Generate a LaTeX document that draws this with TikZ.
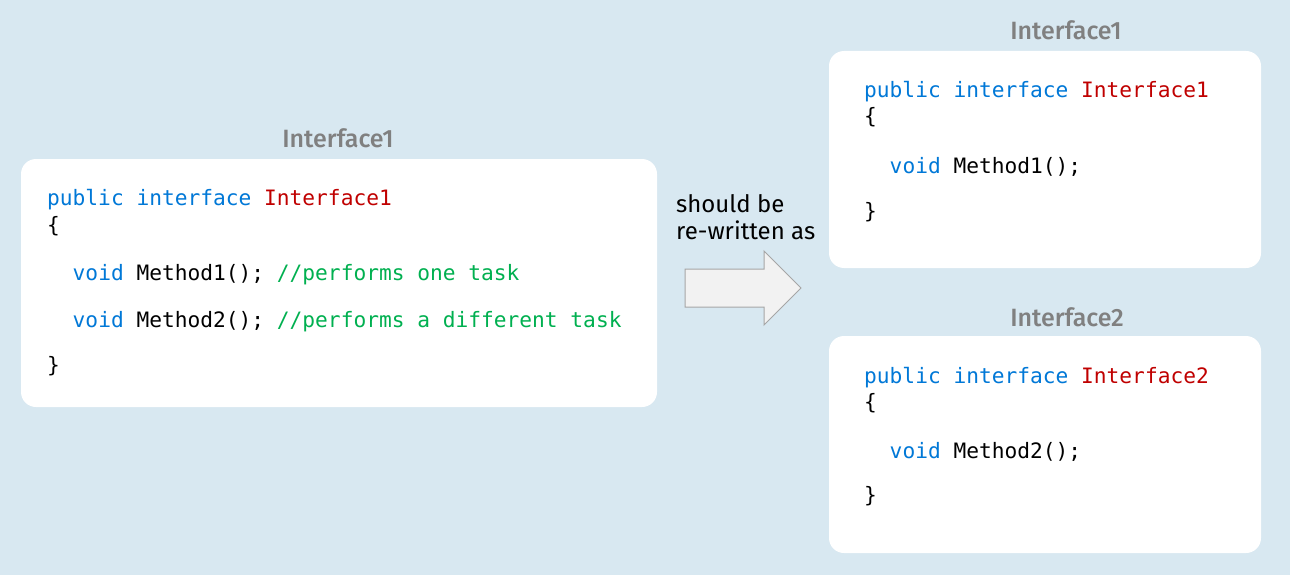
\documentclass[tikz,border=0pt]{standalone}
\usepackage{fontspec}
\setmainfont{Fira Sans}
\newfontfamily\codefont{DejaVu Sans Mono}
\newfontfamily\labelfont{Fira Sans}[UprightFont=* Medium]
\definecolor{bgblue}{RGB}{216,232,241}
\definecolor{kwblue}{RGB}{0,120,215}
\definecolor{tyred}{RGB}{192,0,0}
\definecolor{cmgreen}{RGB}{0,176,80}
\definecolor{lblgray}{RGB}{128,128,128}
\definecolor{arrfill}{RGB}{242,242,242}
\definecolor{arrdraw}{RGB}{166,166,166}
\begin{document}
\begin{tikzpicture}[x=1pt,y=-1pt,
  card/.style={fill=white,draw=none,rounded corners=15pt},
  code/.style={anchor=base west,inner sep=0pt,font=\codefont\fontsize{21.2}{24}\selectfont},
  boxlabel/.style={anchor=base,inner sep=0pt,text=lblgray,font=\labelfont\fontsize{25}{28}\selectfont},
  note/.style={anchor=base west,inner sep=0pt,font=\fontsize{24}{27}\selectfont}]
\fill[bgblue] (0,0) rectangle (1290,575);
\useasboundingbox (0,0) rectangle (1290,575);
% cards
\path[card] (21,159) rectangle (657,407);
\path[card] (829,51) rectangle (1261,268);
\path[card] (829,336) rectangle (1261,553);
% labels
\node[boxlabel] (lblA) at (338,148) {Interface1};
\node[boxlabel] (lblB) at (1066,40) {Interface1};
\node[boxlabel] (lblC) at (1067,326) {Interface2};
% left code
\node[code] (a1) at (47,205) {\textcolor{kwblue}{public interface} \textcolor{tyred}{Interface1}};
\node[code] (a2) at (47,232) {\{};
\node[code] (a3) at (47,280) {\ \ \textcolor{kwblue}{void} Method1(); \textcolor{cmgreen}{//performs one task}};
\node[code] (a4) at (47,327) {\ \ \textcolor{kwblue}{void} Method2(); \textcolor{cmgreen}{//performs a different task}};
\node[code] (a5) at (47,372) {\}};
% right top code
\node[code] (b1) at (864,98) {\textcolor{kwblue}{public interface} \textcolor{tyred}{Interface1}};
\node[code] (b2) at (864,124) {\{};
\node[code] (b3) at (864,173) {\ \ \textcolor{kwblue}{void} Method1();};
\node[code] (b4) at (864,218) {\}};
% right bottom code
\node[code] (c1) at (864,383) {\textcolor{kwblue}{public interface} \textcolor{tyred}{Interface2}};
\node[code] (c2) at (864,409) {\{};
\node[code] (c3) at (864,458) {\ \ \textcolor{kwblue}{void} Method2();};
\node[code] (c4) at (864,502) {\}};
% note
\node[note] (n1) at (676,212) {should be};
\node[note] (n2) at (676,239) {re-written as};
% block arrow
\draw[fill=arrfill,draw=arrdraw,line width=1pt,line join=miter]
  (685,269) -- (764,269) -- (764,251) -- (801,288) -- (764,325) -- (764,307) -- (685,307) -- cycle;
\end{tikzpicture}
\end{document}
